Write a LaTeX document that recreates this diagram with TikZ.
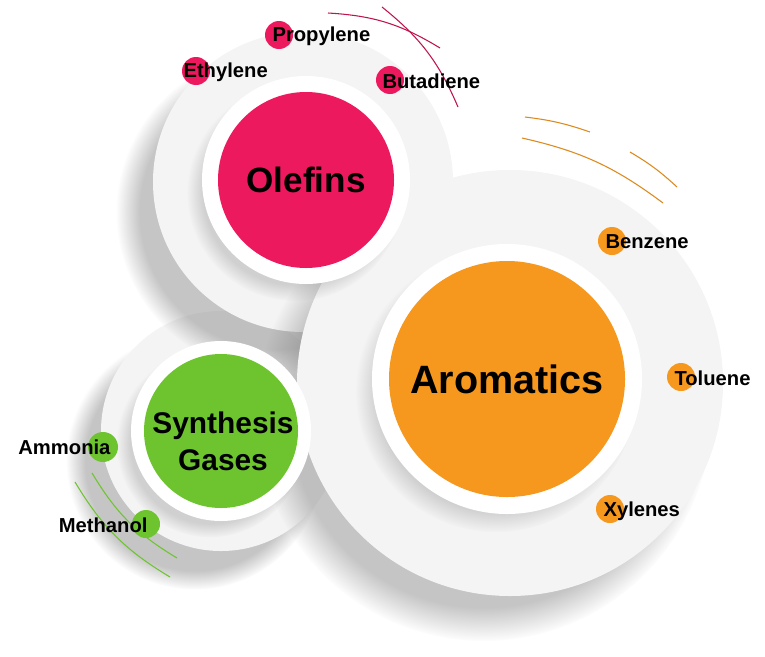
\documentclass[tikz,border=0pt]{standalone}
\usepackage{fontspec}
\setmainfont{Liberation Sans}
\usetikzlibrary{shadows}

\definecolor{olefinpink}{RGB}{237,25,95}
\definecolor{aromorange}{RGB}{247,152,30}
\definecolor{syngreen}{RGB}{110,196,46}
\definecolor{palegrey}{RGB}{244,244,245}

\begin{document}
\begin{tikzpicture}[
    x=0.2mm, y=-0.2mm,
    font=\bfseries,
    line width=0.6pt,
    paledisk/.style={circle, fill=palegrey, inner sep=0pt,
      circular drop shadow={shadow xshift=-14pt, shadow yshift=-16pt, shadow scale=1.07, opacity=0.45}},
    ringdisk/.style={circle, fill=white, inner sep=0pt,
      circular drop shadow={shadow xshift=-6pt, shadow yshift=-7pt, shadow scale=1.04, opacity=0.3}},
    corecircle/.style={circle, inner sep=0pt, align=center, text=black},
    itemdot/.style={circle, inner sep=0pt, minimum size=5.6mm},
    itemlabel/.style={font=\fontsize{11.5}{13}\selectfont\bfseries, text=black, inner sep=0pt}
]
\fill[white] (0,0) rectangle (765,656);

% pale bases
\node[paledisk, minimum size=48mm] (synbase) at (221,431) {};
\node[paledisk, minimum size=60mm] (olefinbase) at (303,182) {};
\node[paledisk, minimum size=85.2mm] (aromaticbase) at (510,383) {};

% olefins
\node[ringdisk, minimum size=41.6mm] (olefinring) at (306,180) {};
\node[corecircle, fill=olefinpink, minimum size=35.2mm, font=\fontsize{20}{22}\selectfont\bfseries] (olefins) at (306,180) {Olefins};

% aromatics
\node[ringdisk, minimum size=54mm] (aromaticring) at (507,379) {};
\node[corecircle, fill=aromorange, minimum size=47.2mm, font=\fontsize{22.5}{25}\selectfont\bfseries] (aromatics) at (507,379) {Aromatics};

% synthesis gases
\node[ringdisk, minimum size=36mm] (synring) at (221,431) {};
\node[corecircle, fill=syngreen, minimum size=30.8mm] (syncore) at (221,431) {};
\node[corecircle, font=\fontsize{17}{21}\selectfont\bfseries] (syngas) at (223,441) {Synthesis\\Gases};

% arcs
\draw[olefinpink!80!black] (328,13) to[bend left=14] (440,48);
\draw[olefinpink!80!black] (382,7) to[bend left=14] (458,107);
\draw[aromorange!90!black] (525,117) to[bend left=6] (590,132);
\draw[aromorange!90!black] (522,138) to[bend left=12] (663,203);
\draw[aromorange!90!black] (630,152) to[bend left=6] (677,187);
\draw[syngreen] (75,482) to[bend right=14] (170,577);
\draw[syngreen] (92,473) to[bend right=14] (177,558);

% item dots
\node[itemdot, fill=olefinpink] (ethylenedot) at (196,71) {};
\node[itemdot, fill=olefinpink] (propylenedot) at (279,35) {};
\node[itemdot, fill=olefinpink] (butadienedot) at (390,80) {};
\node[itemdot, fill=aromorange] (benzenedot) at (612,241) {};
\node[itemdot, fill=aromorange] (toluenedot) at (681,377) {};
\node[itemdot, fill=aromorange] (xylenesdot) at (610,509) {};
\node[itemdot, fill=syngreen, minimum size=6mm] (ammoniadot) at (103,447) {};
\node[itemdot, fill=syngreen] (methanoldot) at (146,524) {};

% item labels
\node[itemlabel, anchor=west] (ethylene) at (183,72) {Ethylene};
\node[itemlabel, anchor=west] (propylene) at (272,36) {Propylene};
\node[itemlabel, anchor=west] (butadiene) at (382,81) {Butadiene};
\node[itemlabel, anchor=west] (benzene) at (605,242) {Benzene};
\node[itemlabel, anchor=west] (toluene) at (674,378) {Toluene};
\node[itemlabel, anchor=west] (xylenes) at (603,511) {Xylenes};
\node[itemlabel, anchor=east] (ammonia) at (111,447) {Ammonia};
\node[itemlabel, anchor=east] (methanol) at (148,525) {Methanol};
\end{tikzpicture}
\end{document}
